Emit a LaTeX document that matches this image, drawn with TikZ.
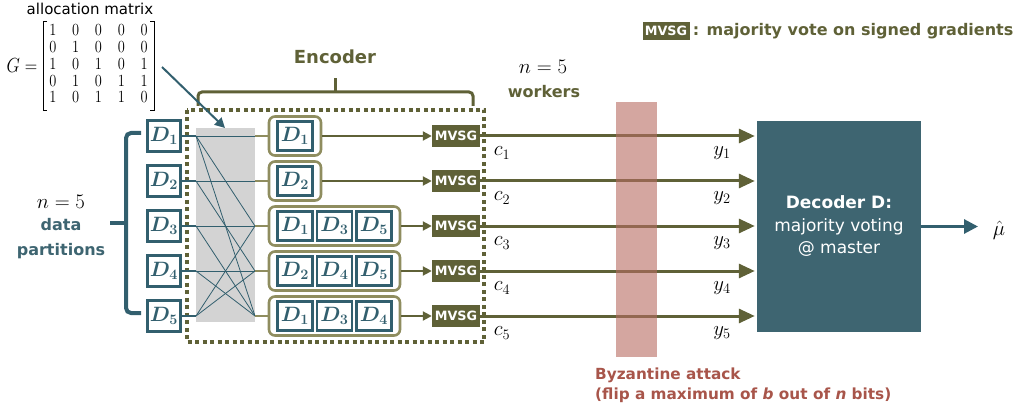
\documentclass[tikz,border=0pt]{standalone}
\usepackage{amsmath}
\usepackage{bm}
\usepackage[no-math]{fontspec}
\setmainfont{DejaVu Sans}
\usetikzlibrary{arrows.meta}

\definecolor{tealc}{RGB}{50,95,110}
\definecolor{decc}{RGB}{62,101,113}
\definecolor{olivec}{RGB}{95,97,55}
\definecolor{lolive}{RGB}{143,141,95}
\definecolor{grayc}{RGB}{211,211,211}
\definecolor{pinkc}{RGB}{183,107,97}
\definecolor{brick}{RGB}{168,85,74}

\begin{document}
\begin{tikzpicture}[x=1pt,y=-1pt,
  dbox/.style={draw=tealc, line width=2.2pt, fill=white, minimum width=33pt,
    minimum height=31pt, inner sep=0pt, text=tealc,
    font=\fontsize{22}{22}\selectfont},
  ibox/.style={dbox, minimum width=35pt, minimum height=29pt},
  grp/.style={draw=lolive, line width=2.6pt, rounded corners=6pt,
    minimum height=39pt, inner sep=0pt},
  mvsg/.style={fill=olivec, text=white, minimum width=48pt, minimum height=22pt,
    inner sep=0pt, font=\bfseries\fontsize{12.8}{12.8}\selectfont},
  lbl/.style={font=\fontsize{21}{21}\selectfont},
  tip/.style={-{Triangle[length=#1,width=#1]}},
  bracket/.style={line width=0.7pt},
]
\useasboundingbox (0,0) rectangle (1025,414);

% allocation matrix
\node[font=\fontsize{15}{15}\selectfont, inner sep=1pt] (atitle) at (90,9) {allocation matrix};
\node[inner sep=0pt] (Geq) at (22,66) {\scalebox{1}[1.18]{\fontsize{17.28}{17.28}\selectfont $G=$}};
\node[inner sep=0pt] (mat) at (98.5,66) {\scalebox{1}[1.18]{\fontsize{15.5}{14.2}\selectfont
  \setlength{\arraycolsep}{7.9pt}%
  $\begin{matrix}1&0&0&0&0\\0&1&0&0&0\\1&0&1&0&1\\0&1&0&1&1\\1&0&1&1&0\end{matrix}$}};
\draw[bracket] (47,21) -- (43,21) -- (43,110) -- (47,110);
\draw[bracket] (150,21) -- (154,21) -- (154,110) -- (150,110);

% encoder mixing area
\fill[grayc] (196,128) rectangle (255,322);

\foreach \i/\y in {1/136,2/181,3/226,4/271,5/316}{
  \coordinate (l\i) at (196,\y);
  \coordinate (r\i) at (255,\y);
}
\foreach \j/\i in {1/1,2/2,1/3,3/3,5/3,2/4,4/4,5/4,1/5,3/5,4/5}
  \draw[tealc, line width=0.8pt] (l\j) -- (r\i);

% encoder frame and brace
\draw[olivec, line width=4pt, dash pattern=on 4pt off 3.5pt] (187,110) rectangle (484,342);
\draw[olivec, line width=3pt, rounded corners=4pt] (198,106) -- (198,92) -- (473,92) -- (473,106);
\draw[olivec, line width=3pt] (335,92) -- (335,78);
\node[text=olivec, font=\bfseries\fontsize{18}{18}\selectfont] (enc) at (335,57) {Encoder};

% data partitions
\foreach \i/\y in {1/136,2/181,3/226,4/271,5/316}{
  \node[dbox] (d\i) at (164,\y) {$\bm{D_{\i}}$};
  \draw[tealc, line width=2pt] (d\i.east) -- (l\i);
}
\draw[tealc, line width=4pt, rounded corners=5pt] (141,133) -- (126,133) -- (126,313) -- (141,313);
\draw[tealc, line width=4pt] (110,223) -- (126,223);
\node[lbl] (np) at (61,202) {$n=5$};
\node[text=decc, font=\bfseries\fontsize{16}{25}\selectfont, align=center] (dp) at (61,239) {data\\partitions};

% workers
\node[grp, minimum width=52pt] (w1) at (295,136) {};
\node[grp, minimum width=52pt] (w2) at (295,181) {};
\node[grp, minimum width=131pt] (w3) at (334.5,226) {};
\node[grp, minimum width=131pt] (w4) at (334.5,271) {};
\node[grp, minimum width=131pt] (w5) at (334.5,316) {};
\node[ibox] (w1a) at (295,136) {$\bm{D_1}$};
\node[ibox] (w2a) at (295,181) {$\bm{D_2}$};
\node[ibox] (w3a) at (295,226) {$\bm{D_1}$};
\node[ibox] (w3b) at (334.5,226) {$\bm{D_3}$};
\node[ibox] (w3c) at (374,226) {$\bm{D_5}$};
\node[ibox] (w4a) at (295,271) {$\bm{D_2}$};
\node[ibox] (w4b) at (334.5,271) {$\bm{D_4}$};
\node[ibox] (w4c) at (374,271) {$\bm{D_5}$};
\node[ibox] (w5a) at (295,316) {$\bm{D_1}$};
\node[ibox] (w5b) at (334.5,316) {$\bm{D_3}$};
\node[ibox] (w5c) at (374,316) {$\bm{D_4}$};

\node[lbl] (nw) at (543,67) {$n=5$};
\node[text=olivec, font=\bfseries\fontsize{16}{16}\selectfont] (wk) at (544,92) {workers};

% decoder
\node[fill=decc, text=white, minimum width=164pt, minimum height=211pt, align=center,
  font=\fontsize{17}{22.5}\selectfont] (dec) at (839,226.5)
  {\textbf{Decoder D:}\\majority voting\\@ master};

% worker outputs
\foreach \i/\y in {1/136,2/181,3/226,4/271,5/316}{
  \draw[lolive, line width=2pt] (r\i) -- (w\i.west);
  \node[mvsg] (m\i) at (456,\y) {MVSG};
  \draw[olivec, line width=2pt, tip=9pt] (w\i.east) -- (m\i.west);
  \draw[olivec, line width=3pt, -{Triangle[length=16pt,width=14pt]}, shorten >=2pt]
    (m\i.east) -- (dec.west |- m\i.east);
  \node[lbl] (c\i) at (502,\y+17) {$c_{\i}$};
  \node[lbl] (y\i) at (722,\y+17) {$y_{\i}$};
}

% byzantine channel
\fill[pinkc, opacity=0.6] (616,102) rectangle (657,357);
\node[anchor=west, inner sep=0pt, align=left, text=brick,
  font=\bfseries\fontsize{15.3}{20}\selectfont] (byz) at (595,385)
  {Byzantine attack\\(flip a maximum of \textit{b} out of \textit{n} bits)};

% estimate
\coordinate (mutip) at (978,226.5);
\draw[tealc, line width=3pt, tip=14pt] (dec.east) -- (mutip);
\node[font=\fontsize{22}{22}\selectfont] (mu) at (999,230) {$\hat{\mu}$};

% allocation arrow
\coordinate (gs) at (162,67);
\coordinate (gt) at (225,128);
\draw[tealc, line width=2pt, tip=10pt] (gs) -- (gt);

% legend
\node[mvsg, minimum width=47pt, minimum height=18pt] (lm) at (666,31) {MVSG};
\node[anchor=west, inner sep=0pt, text=olivec, font=\bfseries\fontsize{16}{16}\selectfont]
  (lt) at ([xshift=3pt]lm.east) {: majority vote on signed gradients};
\end{tikzpicture}
\end{document}
